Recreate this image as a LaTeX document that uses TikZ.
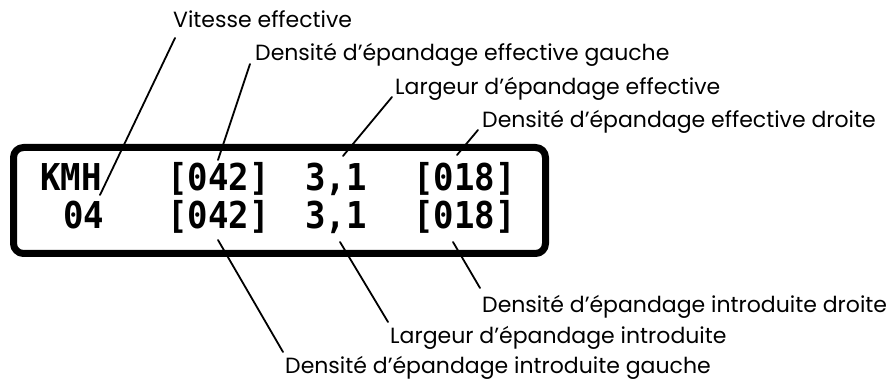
\documentclass[tikz,border=0pt]{standalone}
\usepackage{fontspec}
\setmainfont{Poppins}
\newfontfamily\lcdfont{DejaVu Sans Mono}[FakeStretch=0.92]
\begin{document}
\begin{tikzpicture}
  [
    x=1pt, y=1pt,
    line cap=round, line join=round,
    lcd/.style={inner sep=0pt, anchor=base west, font=\lcdfont\bfseries\fontsize{37}{37}\selectfont},
    label/.style={inner sep=0pt, anchor=base west, font=\fontsize{22}{22}\selectfont},
    leader/.style={black, line width=1.8pt},
  ]
\useasboundingbox (0,0) rectangle (890,382);

% display frame
\draw[line width=7pt, rounded corners=10pt] (13.5,128.5) rectangle (545.5,234.5);

% display fields
\def\rowA{191}
\def\rowB{153}
\node[lcd] (kmh)   at (40,\rowA)  {KMH};
\node[lcd] (eLg)   at (167,\rowA) {[042]};
\node[lcd] (eWd)   at (305,\rowA) {3,1};
\node[lcd] (eRd)   at (413,\rowA) {[018]};
\node[lcd] (speed) at (63,\rowB)  {04};
\node[lcd] (iLg)   at (167,\rowB) {[042]};
\node[lcd] (iWd)   at (305,\rowB) {3,1};
\node[lcd] (iRd)   at (413,\rowB) {[018]};

% labels
\node[label] (vit)   at (173,354) {Vitesse effective};
\node[label] (effG)  at (255,321) {Densité d’épandage effective gauche};
\node[label] (effW)  at (395,287) {Largeur d’épandage effective};
\node[label] (effD)  at (482,254) {Densité d’épandage effective droite};
\node[label] (intD)  at (482,69)  {Densité d’épandage introduite droite};
\node[label] (intW)  at (390,38)  {Largeur d’épandage introduite};
\node[label] (intG)  at (285,8)   {Densité d’épandage introduite gauche};

% leader ends in the display
\coordinate (pKmh) at (100,187);
\coordinate (pEG)  at (218,222);
\coordinate (pEW)  at (343,226);
\coordinate (pED)  at (457,227);
\coordinate (pIG)  at (218,142);
\coordinate (pIW)  at (340,140);
\coordinate (pID)  at (453,140);

\draw[leader] ([shift={(2,-10)}]vit.base west)  -- (pKmh);
\draw[leader] ([shift={(-5,-3)}]effG.base west) -- (pEG);
\draw[leader] ([shift={(-3,-2)}]effW.base west) -- (pEW);
\draw[leader] ([shift={(-4,-2)}]effD.base west) -- (pED);
\draw[leader] ([shift={(-2,22)}]intG.base west) -- (pIG);
\draw[leader] ([shift={(-2,22)}]intW.base west) -- (pIW);
\draw[leader] ([shift={(-2,25)}]intD.base west) -- (pID);

\end{tikzpicture}
\end{document}
